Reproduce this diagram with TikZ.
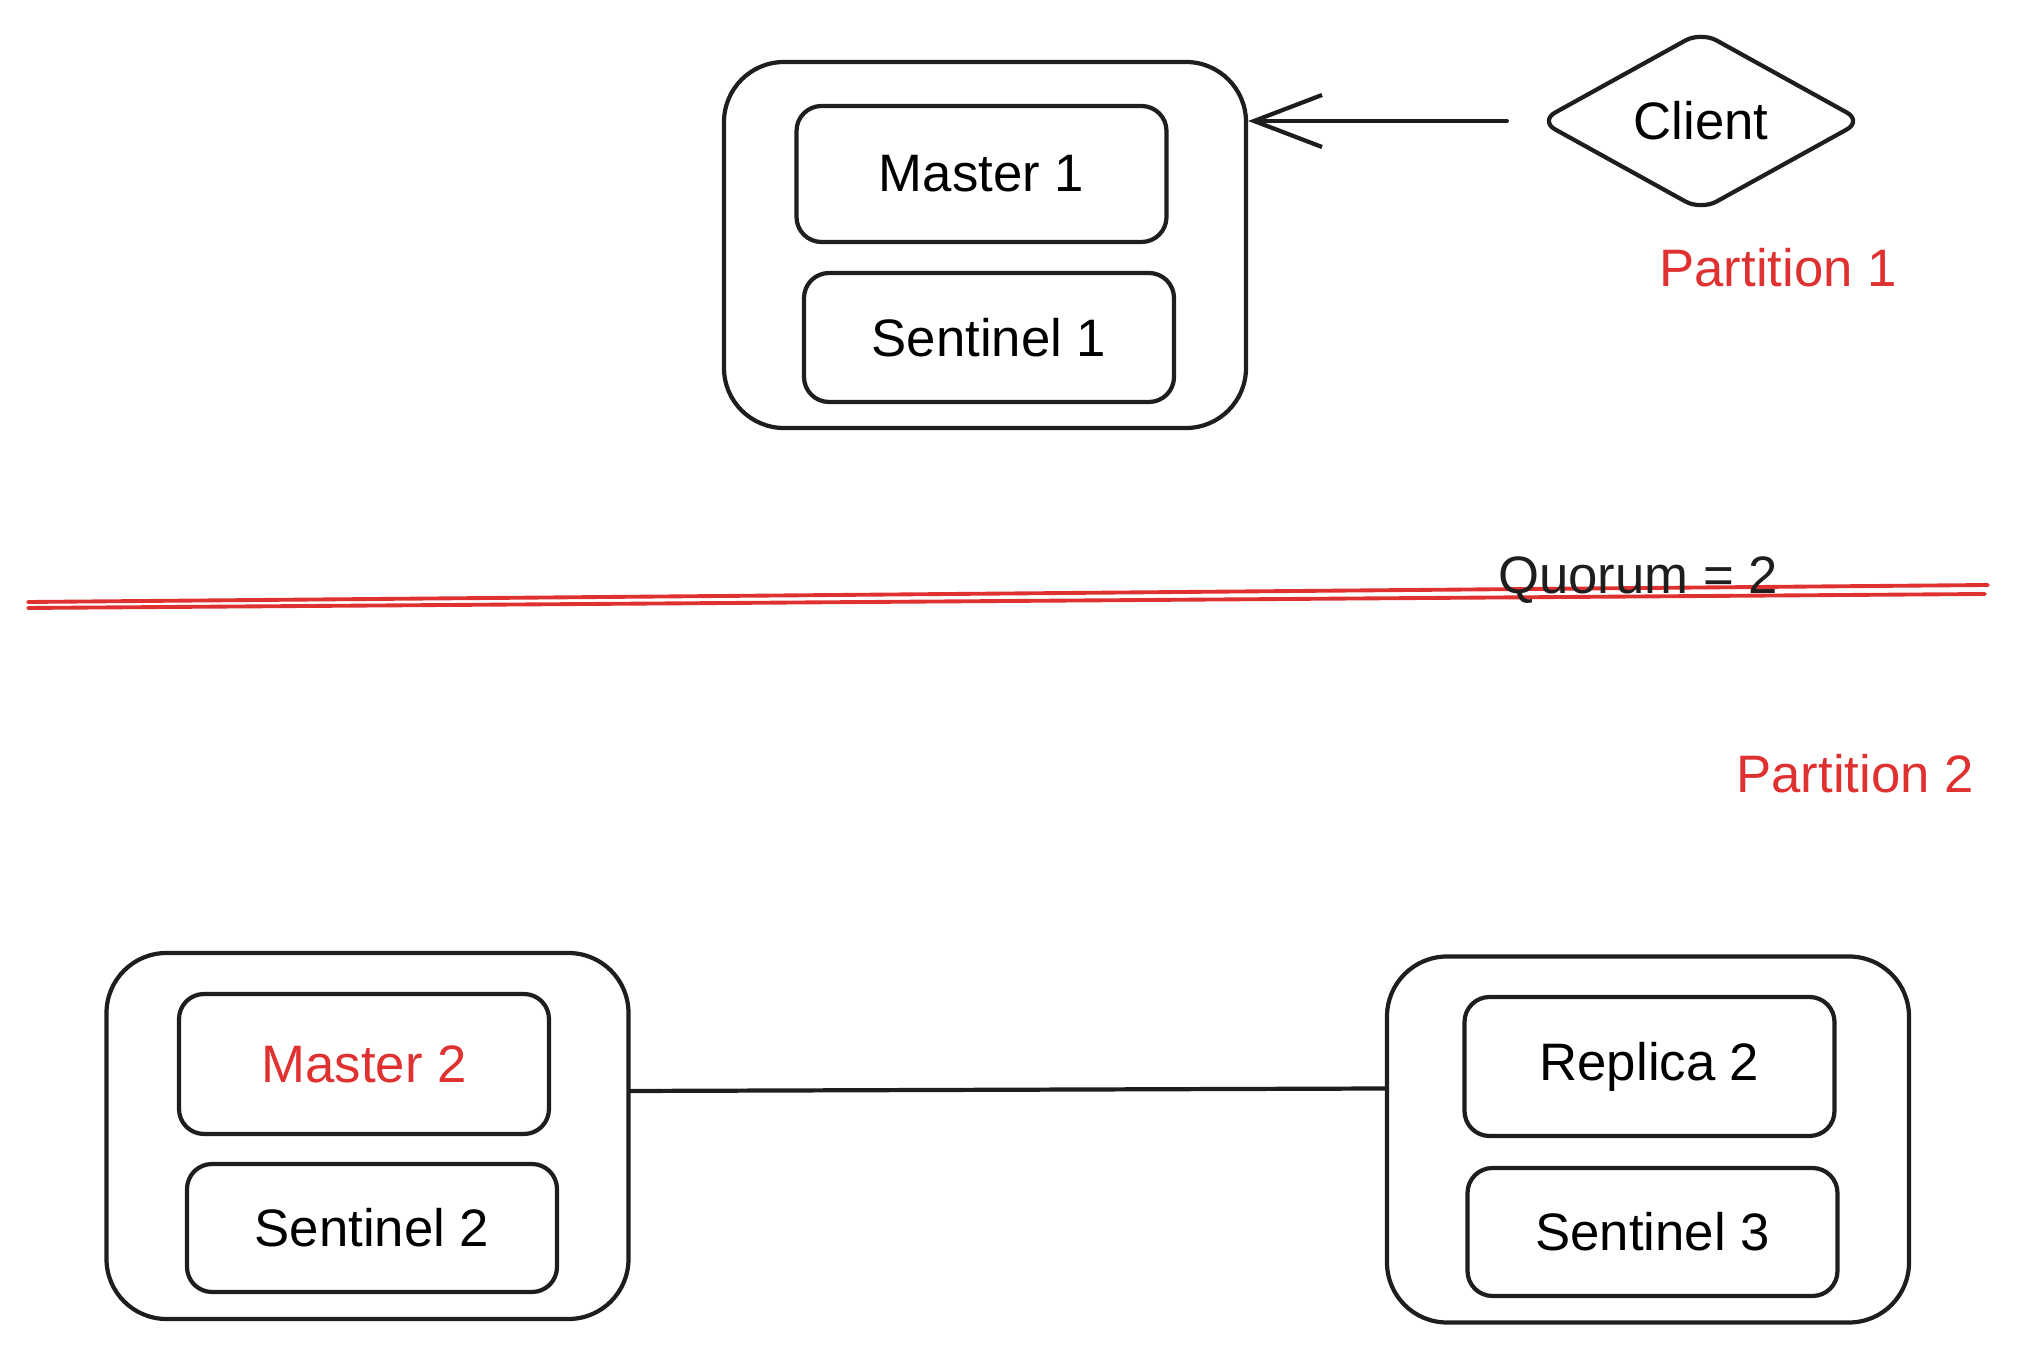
\documentclass[tikz,border=0pt]{standalone}
\usepackage{fontspec}
\setmainfont{Liberation Sans}
\usetikzlibrary{shapes.geometric,arrows.meta}
\definecolor{sketchred}{HTML}{E03131}
\definecolor{ink}{HTML}{1E1E1E}
\begin{document}
\begin{tikzpicture}[line cap=round,line join=round,
    group/.style={draw=ink,line width=1.2pt,rounded corners=0.6cm,minimum width=5.22cm,minimum height=3.66cm},
    unit/.style={draw=ink,line width=1.2pt,rounded corners=0.25cm,minimum width=3.7cm,font=\fontsize{15}{18}\selectfont},
    note/.style={font=\fontsize{15}{18}\selectfont}]
        \useasboundingbox (0,0) rectangle (20.2,-13.52);

        \node[group] (top) at (9.85,-2.45) {};
        \node[unit,minimum height=1.36cm] (master1) at (9.815,-1.74) {Master 1};
        \node[unit,minimum height=1.29cm] (sentinel1) at (9.89,-3.375) {Sentinel 1};
        \node[draw=ink,line width=1.2pt,diamond,aspect=1.83,minimum width=3.24cm,minimum height=1.8cm,inner sep=0pt,rounded corners=5pt,note] (client) at (17.01,-1.21) {Client};
        \draw[ink,line width=1.2pt,-{Straight Barb[length=0.68cm,width=0.52cm]},shorten <=0.3cm] (client.west) -- (client.west -| top.east);
        \node[note,text=sketchred] (part1) at (17.78,-2.68) {Partition 1};

        \coordinate (cutL) at (0.28,-6.02);
        \coordinate (cutR) at (19.88,-5.85);
        \draw[sketchred,line width=1.1pt] (cutL) -- (cutR);
        \draw[sketchred,line width=1.1pt] ([yshift=-0.06cm]cutL) -- ([yshift=-0.09cm,xshift=-0.03cm]cutR);
        \node[note,text=ink] (quorum) at (16.38,-5.8) {Quorum = 2};
        \node[note,text=sketchred] (part2) at (18.55,-7.74) {Partition 2};

        \node[group] (left) at (3.675,-11.36) {};
        \node[unit,minimum height=1.40cm,text=sketchred] (master2) at (3.64,-10.64) {Master 2};
        \node[unit,minimum height=1.28cm] (sentinel2) at (3.72,-12.28) {Sentinel 2};
        \node[group] (right) at (16.48,-11.395) {};
        \node[unit,minimum height=1.39cm] (replica2) at (16.495,-10.665) {Replica 2};
        \node[unit,minimum height=1.28cm] (sentinel3) at (16.525,-12.32) {Sentinel 3};
        \draw[ink,line width=1.2pt] ([yshift=0.45cm]left.east) -- ([yshift=0.51cm]right.west);
\end{tikzpicture}
\end{document}
